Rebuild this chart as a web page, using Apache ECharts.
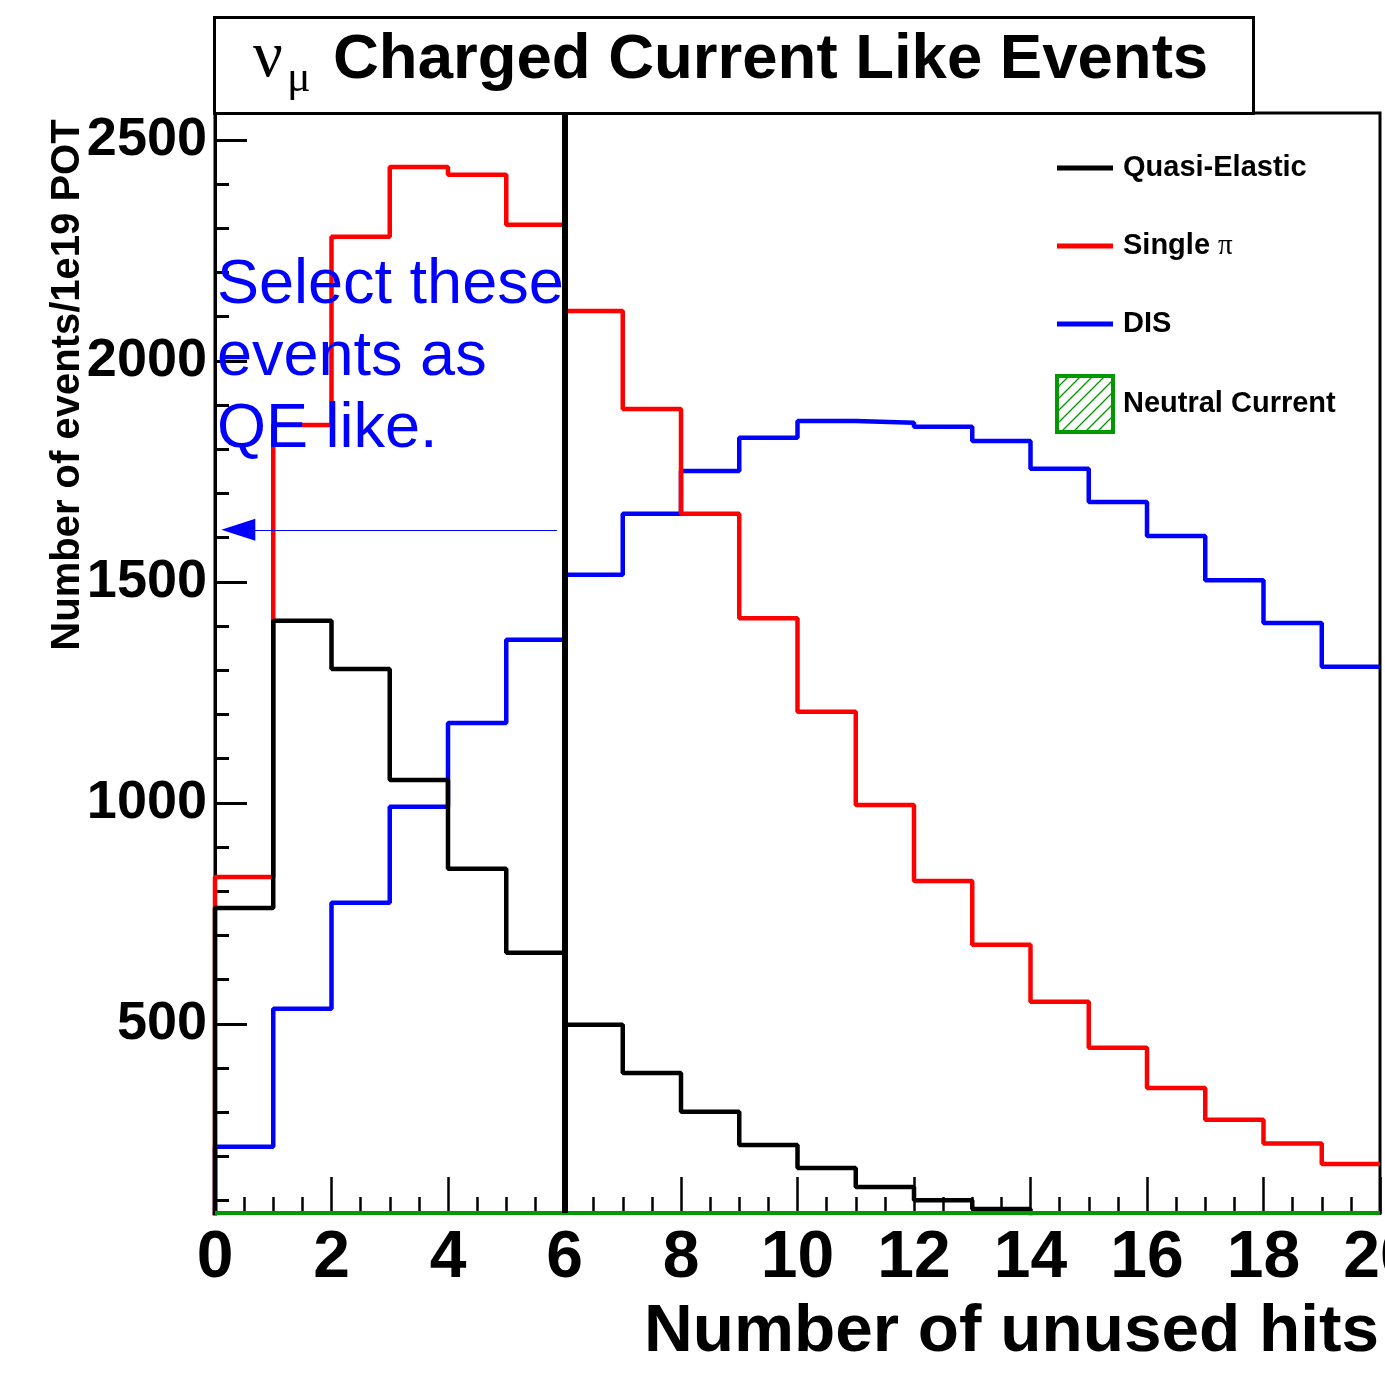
<!DOCTYPE html>
<html>
<head>
<meta charset="utf-8">
<script src="https://cdn.jsdelivr.net/npm/echarts@6/dist/echarts.min.js"></script>
<style>
html,body{margin:0;padding:0;background:#fff;}
#chart{width:1385px;height:1376px;}
</style>
</head>
<body>
<div id="chart"></div>
<script>
// ---- data (bins of width 1, lower edges 0..19) ----
const binLowEdges = [0,1,2,3,4,5,6,7,8,9,10,11,12,13,14,15,16,17,18,19];
const binUpperEdge = 20;
const quasiElastic   = [762,1412,1303,1052,851,661,498,389,301,226,174,131,101,81,60,45,32,22,15,10];
const singlePi       = [832,1855,2281,2439,2421,2308,2113,1891,1654,1418,1206,995,823,679,550,446,355,283,229,183];
const dis            = [222,534,774,991,1181,1369,1516,1654,1751,1826,1864,1860,1851,1819,1756,1681,1604,1504,1407,1308];
const neutralCurrent = [0,0,0,0,0,0,0,0,0,0,0,0,0,0,0,0,0,0,0,0];

const seriesNames = ['Quasi-Elastic','Single π','DIS','Neutral Current'];
const yMajorTicks = [500,1000,1500,2000,2500];
const yMinorTicks = [100,200,300,400,600,700,800,900,1100,1200,1300,1400,1600,1700,1800,1900,2100,2200,2300,2400];
const yMin = 72, yMax = 2561;
const xMin = 0, xMax = 20, xInterval = 2;
const cutValue = 6;
const arrowFrom = [5.87, 1618];
const arrowTo = [0.40, 1618];

const titleText = 'Charged Current Like Events';
const annotationText = 'Select these\nevents as\nQE like.';
const xAxisTitle = 'Number of unused hits';
const yAxisTitle = 'Number of events/1e19 POT';

const SANS = '"Liberation Sans", Arial, Helvetica, sans-serif';
const SERIF = '"Liberation Serif", "Times New Roman", serif';
const GREEN = '#009a00';
const LINE_ICON = 'path://M0,0 L56,0 L56,5 L0,5 Z';

function histo(vals, floor) {
  const d = [[binLowEdges[0], floor === undefined ? 0 : floor]];
  vals.forEach((v, i) => d.push([binLowEdges[i], floor === undefined ? v : Math.max(v, floor)]));
  const last = vals[vals.length - 1];
  d.push([binUpperEdge, floor === undefined ? last : Math.max(last, floor)]);
  return d;
}

// hatch pattern for NC legend box
const pc = document.createElement('canvas');
pc.width = 12; pc.height = 12;
const pctx = pc.getContext('2d');
pctx.fillStyle = '#fff'; pctx.fillRect(0,0,12,12);
pctx.strokeStyle = GREEN; pctx.lineWidth = 1.3;
pctx.beginPath();
pctx.moveTo(-1,13); pctx.lineTo(13,-1);
pctx.moveTo(-7,7); pctx.lineTo(7,-7);
pctx.moveTo(5,19); pctx.lineTo(19,5);
pctx.stroke();
const hatch = {image: pc, repeat: 'repeat'};

const chart = echarts.init(document.getElementById('chart'), null, {renderer: 'canvas'});

function lineSeries(name, vals, color, extra) {
  return Object.assign({
    name: name,
    type: 'line',
    step: 'end',
    symbol: 'none',
    showSymbol: false,
    animation: false,
    silent: true,
    clip: true,
    data: histo(vals),
    lineStyle: {color: color, width: 4.5},
    itemStyle: {color: color}
  }, extra || {});
}

const option = {
  backgroundColor: '#fff',
  animation: false,
  grid: {left: 215, right: 5, top: 113, bottom: 163, containLabel: false, outerBoundsMode: 'none',
    show: true, borderColor: '#000', borderWidth: 3, backgroundColor: 'transparent'},
  xAxis: {
    type: 'value', min: xMin, max: xMax, interval: xInterval,
    axisLine: {show: true, onZero: false, lineStyle: {color: '#000', width: 3}},
    axisTick: {show: true, inside: true, length: 36, lineStyle: {color: '#000', width: 2.5}},
    minorTick: {show: true, splitNumber: 4, length: 16, lineStyle: {color: '#000', width: 2.5}},
    axisLabel: {show: true, margin: 13, fontSize: 66, fontWeight: 'bold', fontFamily: SANS, color: '#000',
      hideOverlap: false, formatter: v => String(v)},
    splitLine: {show: false}
  },
  yAxis: [{
    type: 'value', min: yMin, max: yMax,
    axisLine: {show: true, lineStyle: {color: '#000', width: 3}},
    axisTick: {show: true, inside: true, length: 32, customValues: yMajorTicks, lineStyle: {color: '#000', width: 3}},
    axisLabel: {show: true, margin: 8, customValues: yMajorTicks, fontSize: 54, fontWeight: 'bold', fontFamily: SANS, color: '#000',
      formatter: v => String(v)},
    splitLine: {show: false}
  }, {
    type: 'value', min: yMin, max: yMax, position: 'left',
    axisLine: {show: false},
    axisTick: {show: true, inside: true, length: 14, customValues: yMinorTicks, lineStyle: {color: '#000', width: 3}},
    axisLabel: {show: false},
    splitLine: {show: false}
  }],
  legend: {
    orient: 'vertical', left: 1055, top: 140, padding: 0,
    itemWidth: 56, itemHeight: 56, itemGap: 22,
    selectedMode: false,
    textStyle: {fontSize: 29, lineHeight: 56, fontWeight: 'bold', fontFamily: SANS, color: '#000', padding: [0,0,0,5],
      rich: {p: {fontFamily: SERIF, fontWeight: 'normal', fontSize: 29, lineHeight: 56, color: '#000'}}},
    formatter: function (n) { return n === 'Single π' ? 'Single {p|π}' : n; },
    data: [
      {name: seriesNames[0], icon: LINE_ICON},
      {name: seriesNames[1], icon: LINE_ICON},
      {name: seriesNames[2], icon: LINE_ICON},
      {name: seriesNames[3], icon: 'rect', itemStyle: {color: hatch, borderColor: GREEN, borderWidth: 4}}
    ]
  },
  series: [
    lineSeries(seriesNames[2], dis, '#0000ff', {
      markLine: {
        silent: true, animation: false,
        symbol: ['none', 'triangle'], symbolSize: [22, 34],
        label: {show: false},
        lineStyle: {color: '#0000ff', width: 1.2, type: 'solid'},
        emphasis: {disabled: true},
        data: [[{coord: arrowFrom, symbol: 'none'}, {coord: arrowTo, symbol: 'triangle'}]]
      }
    }),
    lineSeries(seriesNames[1], singlePi, '#ff0000'),
    lineSeries(seriesNames[0], quasiElastic, '#000000', {
      markLine: {
        silent: true, animation: false, symbol: ['none','none'],
        label: {show: false},
        lineStyle: {color: '#000', width: 6, type: 'solid'},
        emphasis: {disabled: true},
        data: [{xAxis: cutValue}]
      }
    }),
    lineSeries(seriesNames[3], neutralCurrent, GREEN, {data: histo(neutralCurrent, yMin), clip: false, lineStyle: {color: GREEN, width: 4}})
  ],
  graphic: [
    {type: 'rect', shape: {x: 214.5, y: 17.5, width: 1039, height: 96}, style: {fill: '#fff', stroke: '#000', lineWidth: 3}, z: 10},
    {type: 'text', x: 253, y: 59, z: 11, style: {text: 'ν', font: '66px ' + SERIF, fill: '#000', verticalAlign: 'middle'}},
    {type: 'text', x: 287, y: 79, z: 11, style: {text: 'μ', font: '44px ' + SERIF, fill: '#000', verticalAlign: 'middle'}},
    {type: 'text', x: 333, y: 60, z: 11, style: {text: titleText, font: 'bold 63.5px ' + SANS, fill: '#000', verticalAlign: 'middle'}},
    {type: 'text', x: 217, y: 250, z: 11, style: {text: annotationText, font: '63px ' + SANS, fill: '#0000ff', lineHeight: 72}},
    {type: 'text', x: 1379, y: 1332, z: 11, style: {text: xAxisTitle, font: 'bold 67.5px ' + SANS, fill: '#000', align: 'right', verticalAlign: 'middle'}},
    {type: 'text', x: 68, y: 385, rotation: Math.PI / 2, z: 11, style: {text: yAxisTitle, font: 'bold 40px ' + SANS, fill: '#000', align: 'center', verticalAlign: 'middle'}}
  ]
};
chart.setOption(option);
</script>
</body>
</html>
